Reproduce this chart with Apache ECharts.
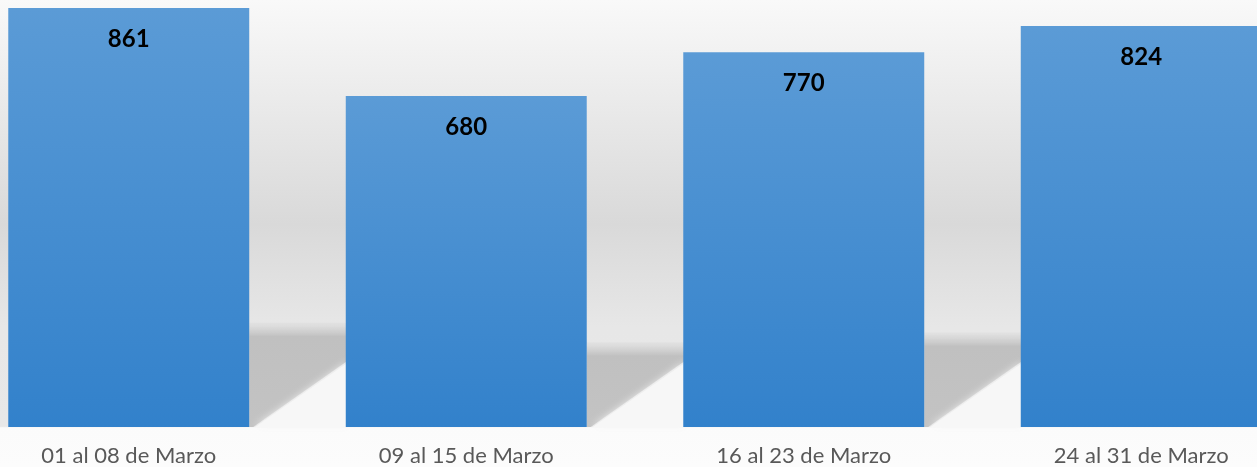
<!DOCTYPE html>
<html>
<head>
<meta charset="utf-8">
<script src="https://cdn.jsdelivr.net/npm/echarts@6/dist/echarts.min.js"></script>
<style>
html,body{margin:0;padding:0;}
body{width:1257px;height:467px;overflow:hidden;position:relative;
  background:linear-gradient(to bottom,#f9f9f9 0%,#d9d9d9 48%,#e7e7e7 70%,#e8e8e8 91.3%,#fbfbfb 91.6%,#fcfcfc 100%);}
#chart{position:absolute;left:-40px;top:-11px;width:1350px;height:478px;}
</style>
</head>
<body>
<div id="chart"></div>
<script>
var categories = ['01 al 08 de Marzo', '09 al 15 de Marzo', '16 al 23 de Marzo', '24 al 31 de Marzo'];
var values = [861, 680, 770, 824];

var BAR_RATIO = 0.714;
var chart = echarts.init(document.getElementById('chart'));

function renderShadow(params, api) {
  var idx = api.value(0);
  var val = api.value(1);
  var top = api.coord([idx, val]);
  var base = api.coord([idx, 0]);
  var catW = api.size([1, 0])[0];
  var barW = catW * BAR_RATIO;
  var gapW = catW - barW;
  var xr = top[0] + barW / 2;
  var bottom = base[1];
  var h = bottom - top[1];
  var ts = bottom - 0.22 * h;
  var band = 12;
  var x0 = xr + 4;
  var slope = 0.7;
  var xe = xr + gapW + 2;
  var yd = bottom - slope * (xe - x0);
  var totalH = bottom - (ts - band);
  return {
    type: 'group',
    children: [
      {
        type: 'polygon',
        shape: { points: [[xr, ts - band], [xe, ts - band], [xe, yd], [x0, bottom], [xr, bottom]] },
        style: {
          fill: new echarts.graphic.LinearGradient(0, 0, 0, 1, [
            { offset: 0, color: 'rgba(215,215,215,0.3)' },
            { offset: band / totalH * 0.6, color: 'rgba(208,208,208,0.9)' },
            { offset: band / totalH * 1.15, color: '#c0c0c0' },
            { offset: 1, color: '#c3c3c3' }
          ])
        }
      },
      {
        type: 'polygon',
        shape: { points: [[x0 + 2, bottom], [xe, yd + 2], [xe, bottom]] },
        style: { fill: '#f7f7f7', shadowBlur: 8, shadowColor: 'rgba(247,247,247,1)' }
      }
    ]
  };
}

var option = {
  backgroundColor: 'transparent',
  animation: false,
  grid: { left: 0, right: 0, top: 0, bottom: 40, containLabel: false },
  xAxis: {
    type: 'category',
    data: categories,
    axisLine: { show: false },
    axisTick: { show: false },
    axisLabel: { color: '#595959', fontSize: 22, fontFamily: 'Lato', margin: 18 }
  },
  yAxis: {
    type: 'value',
    min: 0,
    max: 900,
    show: false,
    splitLine: { show: false }
  },
  series: [
    {
      type: 'custom',
      renderItem: renderShadow,
      data: values.map(function (v, i) { return [i, v]; }),
      z: 1,
      silent: true
    },
    {
      type: 'bar',
      data: values,
      barWidth: (BAR_RATIO * 100) + '%',
      z: 3,
      itemStyle: {
        color: new echarts.graphic.LinearGradient(0, 0, 0, 1, [
          { offset: 0, color: '#5b9bd6' },
          { offset: 1, color: '#3281cb' }
        ])
      },
      label: {
        show: true,
        position: 'insideTop',
        distance: 19,
        color: '#000000',
        fontSize: 24,
        fontWeight: 'bold',
        fontFamily: 'Lato'
      }
    }
  ]
};
chart.setOption(option);
</script>
</body>
</html>
